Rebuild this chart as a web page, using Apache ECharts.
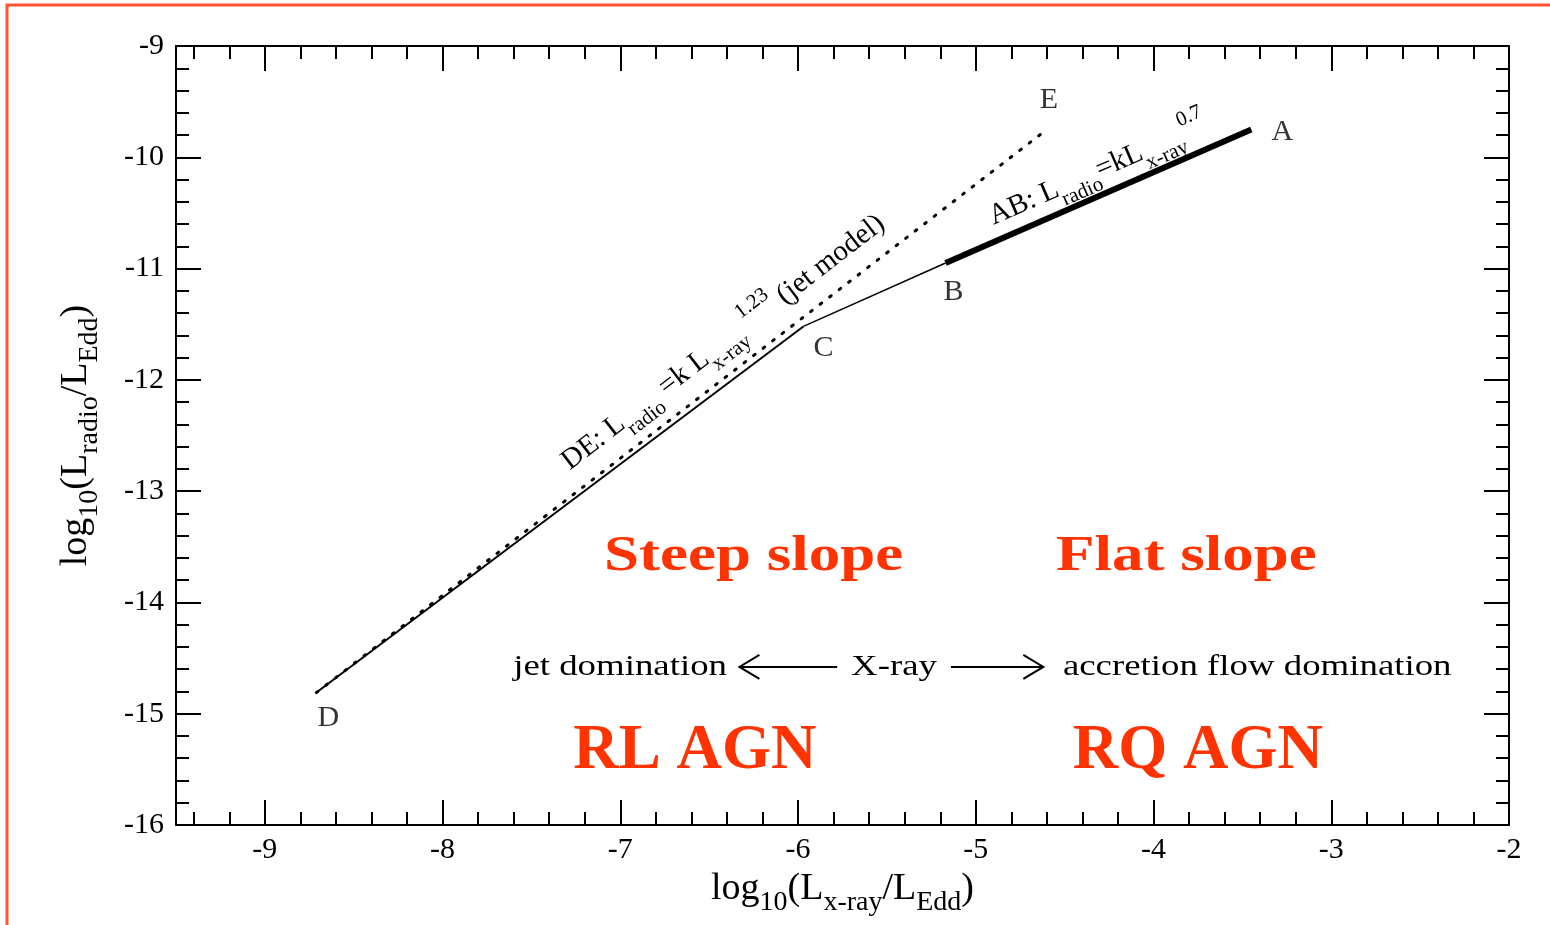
<!DOCTYPE html>
<html>
<head>
<meta charset="utf-8">
<title>Radio vs X-ray luminosity</title>
<script src="https://cdn.jsdelivr.net/npm/echarts@6/dist/echarts.min.js"></script>
<style>
html, body { margin: 0; padding: 0; background: #fff; }
#main { width: 1550px; height: 925px; }
</style>
</head>
<body>
<div id="main"></div>
<script>
// key points of the sketch (log10 units)
var pointNames = ['A', 'B', 'C', 'D', 'E'];
var pointX = [-3.45, -5.17, -5.97, -8.71, -4.60];
var pointY = [-9.75, -10.95, -11.52, -14.81, -9.75];

var xMajorTicks = [-9, -8, -7, -6, -5, -4, -3, -2];
var yMajorTicks = [-16, -15, -14, -13, -12, -11, -10, -9];

// annotation anchors, data coords
var steepPos = [-6.25, -13.59];
var flatPos = [-3.815, -13.59];
var rlPos = [-6.58, -15.34];
var rqPos = [-3.75, -15.34];
var arrowRowY = -14.58;
var jetTextX = -6.40;
var xrayTextX = -5.46;
var accretionTextX = -4.51;
var leftArrowX = [-6.33, -5.78];
var rightArrowX = [-5.14, -4.62];
var deTextPos = [-6.42, -11.665];
var abTextPos = [-4.31, -10.12];

var SERIF = '"Liberation Serif", "Times New Roman", serif';
var RED = '#ff3300';

function pt(name) {
    var i = pointNames.indexOf(name);
    return [pointX[i], pointY[i]];
}

function minorTicks(lo, hi) {
    var out = [];
    for (var v = Math.round(lo * 10); v <= Math.round(hi * 10); v += 2) out.push(v / 10);
    return out;
}
var xMinorTicks = minorTicks(-9.4, -2.2);
var yMinorTicks = minorTicks(-15.8, -9.2);

var labelOffsets = {
    A: [31, 3], B: [8, 29], C: [20, 22], D: [12, 26], E: [2, -29]
};

function axisDef(pos, ticks, len, withLine, min, max) {
    return {
        type: 'value', position: pos, min: min, max: max,
        axisLine: { show: withLine, onZero: false, lineStyle: { color: '#000', width: 2 } },
        axisTick: { show: true, inside: true, length: len, customValues: ticks,
            lineStyle: { color: '#000', width: 2 } },
        axisLabel: { show: false },
        splitLine: { show: false }
    };
}

var subRich = {
    n: { fontSize: 38, lineHeight: 56, verticalAlign: 'middle', fontFamily: SERIF, color: '#000' },
    s: { fontSize: 28, lineHeight: 28, verticalAlign: 'bottom', fontFamily: SERIF, color: '#000' }
};

var xMain = axisDef('bottom', xMajorTicks, 25, true, -9.5, -2);
xMain.axisLabel = { show: true, customValues: xMajorTicks, fontSize: 30, fontFamily: SERIF,
    color: '#000', margin: 10 };
xMain.name = '{n|log}{s|10}{n|(L}{s|x-ray}{n|/L}{s|Edd}{n|)}';
xMain.nameLocation = 'middle';
xMain.nameGap = 34;
xMain.nameTextStyle = { rich: subRich };

var yMain = axisDef('left', yMajorTicks, 25, true, -16, -9);
yMain.axisLabel = { show: true, customValues: yMajorTicks, fontSize: 30, fontFamily: SERIF,
    color: '#000', margin: 12 };
yMain.name = '{n|log}{s|10}{n|(L}{s|radio}{n|/L}{s|Edd}{n|)}';
yMain.nameLocation = 'middle';
yMain.nameRotate = 90;
yMain.nameGap = 72;
yMain.nameTextStyle = { rich: subRich };

var option = {
    backgroundColor: '#fff',
    animation: false,
    grid: { left: 176, right: 41, top: 46, bottom: 100 },
    xAxis: [
        xMain,
        axisDef('bottom', xMinorTicks, 13, false, -9.5, -2),
        axisDef('top', xMajorTicks, 25, true, -9.5, -2),
        axisDef('top', xMinorTicks, 13, false, -9.5, -2)
    ],
    yAxis: [
        yMain,
        axisDef('left', yMinorTicks, 13, false, -16, -9),
        axisDef('right', yMajorTicks, 25, true, -16, -9),
        axisDef('right', yMinorTicks, 13, false, -16, -9)
    ],
    series: [
        {   // DE: jet model, dotted
            type: 'line', symbol: 'none', data: [pt('D'), pt('E')],
            lineStyle: { color: '#000', width: 3, type: [2, 10], cap: 'round' }
        },
        {
            type: 'line', symbol: 'none', data: [pt('D'), pt('C')],
            lineStyle: { color: '#000', width: 2 }
        },
        {
            type: 'line', symbol: 'none', data: [pt('C'), pt('B')],
            lineStyle: { color: '#000', width: 1.5 }
        },
        {   // AB: accretion flow, thick
            type: 'line', symbol: 'none', data: [pt('B'), pt('A')],
            lineStyle: { color: '#000', width: 6 }
        },
        {
            type: 'scatter', symbolSize: 1, itemStyle: { color: 'rgba(0,0,0,0)' },
            data: pointNames.map(function (n, i) {
                return { name: n, value: [pointX[i], pointY[i]], label: { offset: labelOffsets[n] } };
            }),
            label: { show: true, formatter: '{b}', position: 'inside', fontSize: 30,
                fontFamily: SERIF, color: '#000' }
        }
    ]
};

var chart = echarts.init(document.getElementById('main'));
chart.setOption(option);

function px(p) {
    return chart.convertToPixel({ xAxisIndex: 0, yAxisIndex: 0 }, p);
}

function plainText(pos, text, size, weight, color, align, sx) {
    var p = px(pos);
    return {
        type: 'text', x: p[0], y: p[1], scaleX: sx, silent: true,
        style: { text: text, fontSize: size, fontWeight: weight, fontFamily: SERIF, fill: color,
            align: align, verticalAlign: 'middle' }
    };
}

function arrow(xs, headLeft) {
    var a = px([xs[0], arrowRowY]), b = px([xs[1], arrowRowY]);
    var tip = headLeft ? a : b, dir = headLeft ? 1 : -1;
    return [
        { type: 'polyline', silent: true, shape: { points: [a, b] },
          style: { stroke: '#000', lineWidth: 2, fill: null } },
        { type: 'polyline', silent: true,
          shape: { points: [[tip[0] + dir * 20, tip[1] - 12], tip, [tip[0] + dir * 20, tip[1] + 12]] },
          style: { stroke: '#000', lineWidth: 2, fill: null } }
    ];
}

function slopeAngle(p0, p1) {
    var a = px(p0), b = px(p1);
    return Math.atan2(a[1] - b[1], b[0] - a[0]);
}

var eqRich = {
    n: { fontSize: 29, lineHeight: 48, verticalAlign: 'middle', fontFamily: SERIF, fill: '#000' },
    s: { fontSize: 21, lineHeight: 21, verticalAlign: 'bottom', fontFamily: SERIF, fill: '#000' },
    p: { fontSize: 21, lineHeight: 21, verticalAlign: 'top', fontFamily: SERIF, fill: '#000' }
};

var dePx = px(deTextPos), abPx = px(abTextPos);
var graphics = [
    { type: 'rect', silent: true, shape: { x: 7, y: 5, width: 1600, height: 1000 },
      style: { fill: null, stroke: '#ff5533', lineWidth: 3 } },
    plainText(steepPos, 'Steep slope', 50, 'bold', RED, 'center', 1.26),
    plainText(flatPos, 'Flat slope', 50, 'bold', RED, 'center', 1.26),
    plainText(rlPos, 'RL AGN', 63, 'bold', RED, 'center', 1),
    plainText(rqPos, 'RQ AGN', 63, 'bold', RED, 'center', 1),
    plainText([jetTextX, arrowRowY], 'jet domination', 29, 'normal', '#000', 'right', 1.27),
    plainText([xrayTextX, arrowRowY], 'X-ray', 29, 'normal', '#000', 'center', 1.27),
    plainText([accretionTextX, arrowRowY], 'accretion flow domination', 29, 'normal', '#000', 'left', 1.27),
    { type: 'text', silent: true, x: dePx[0], y: dePx[1], rotation: slopeAngle(pt('D'), pt('E')),
      style: { text: '{n|DE: L}{s|radio}{n| =k L}{s|x-ray}{p| 1.23}{n| (jet model)}', rich: eqRich,
          align: 'center', verticalAlign: 'middle' } },
    { type: 'text', silent: true, x: abPx[0], y: abPx[1], rotation: slopeAngle(pt('B'), pt('A')),
      style: { text: '{n|AB: L}{s|radio}{n|=kL}{s|x-ray}{p|0.7}', rich: eqRich,
          align: 'center', verticalAlign: 'middle' } }
].concat(arrow(leftArrowX, true), arrow(rightArrowX, false));

chart.setOption({ graphic: graphics });
</script>
</body>
</html>
